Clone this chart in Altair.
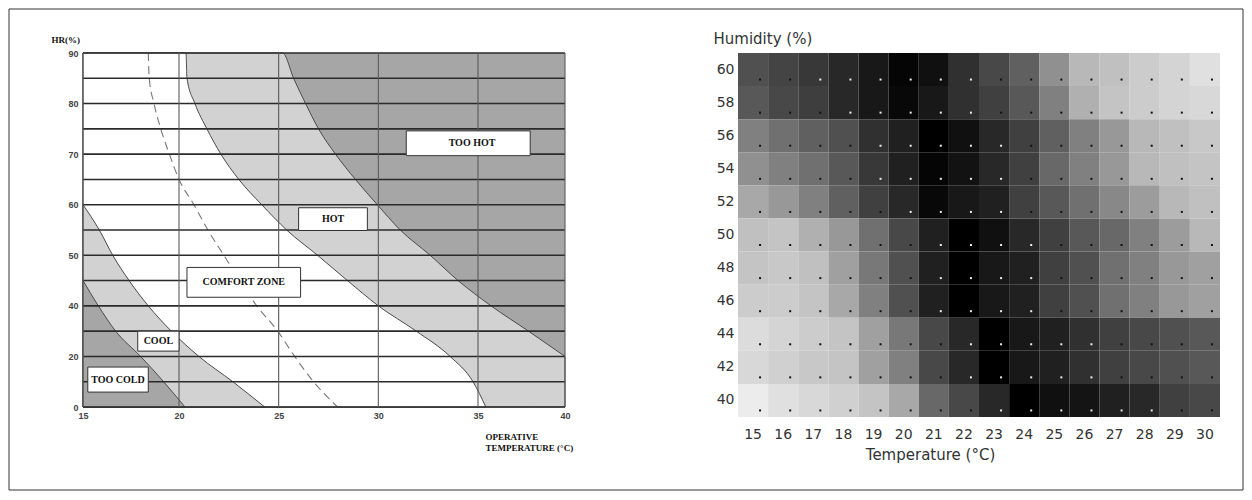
import altair as alt
import pandas as pd

# ---------------- Left chart: thermal comfort zones ----------------
hr_grid = [0, 10, 20, 30, 40, 45, 50, 55, 60, 65, 70, 75, 80, 85, 90]
hr_ticks = [0, 20, 40, 50, 60, 70, 80, 90]
t_ticks = [15, 20, 25, 30, 35, 40]

cold_hr = [0, 10, 20, 30, 40, 45]
cold_t = [20.3, 19.2, 18.0, 16.7, 15.8, 15.0]

cool_hr = [0, 10, 20, 30, 40, 45, 50, 55, 60]
cool_t = [24.3, 22.7, 21.0, 19.6, 18.4, 17.4, 16.55, 15.85, 15.0]

hot_hr = [0, 10, 20, 30, 40, 45, 50, 55, 60, 65, 70, 75, 80, 85, 90]
hot_t = [35.45, 34.75, 33.6, 31.9, 30.0, 28.45, 26.95, 25.4, 24.15, 23.0, 22.1, 21.4, 20.8, 20.4, 20.35]

toohot_hr = [20, 30, 40, 45, 50, 55, 60, 65, 70, 75, 80, 85, 90]
toohot_t = [40.0, 37.9, 35.75, 34.0, 32.6, 31.1, 29.95, 28.85, 27.85, 27.0, 26.35, 25.75, 25.2]

neutral_hr = [0, 10, 20, 30, 40, 50, 55, 60, 65, 70, 75, 80, 85, 90]
neutral_t = [27.95, 26.75, 25.8, 24.95, 23.9, 22.25, 21.45, 20.75, 20.0, 19.5, 19.05, 18.7, 18.45, 18.4]

zone_names = ["TOO HOT", "HOT", "COMFORT ZONE", "COOL", "TOO COLD"]
box_t0 = [31.4, 26.0, 20.4, 17.85, 15.25]
box_t1 = [38.0, 29.45, 26.1, 20.0, 18.4]
box_hr0 = [69.7, 54.9, 41.7, 22.1, 5.9]
box_hr1 = [74.6, 59.4, 47.6, 30.0, 15.8]

T_MIN, T_MAX, HR_MIN, HR_MAX = 15.0, 40.0, 0, 90

# ---------------- Right chart: heat map ----------------
temps = list(range(15, 31))
hums = [60, 58, 56, 54, 52, 50, 48, 46, 44, 42, 40]
gray_rows = [
    [80, 68, 56, 40, 24, 5, 16, 48, 72, 96, 144, 184, 192, 204, 212, 224],
    [88, 72, 62, 40, 24, 8, 24, 48, 64, 88, 128, 176, 196, 204, 212, 216],
    [128, 112, 96, 80, 48, 32, 0, 16, 40, 64, 96, 128, 152, 184, 192, 200],
    [144, 128, 112, 88, 56, 32, 5, 18, 40, 64, 104, 128, 152, 184, 192, 196],
    [168, 152, 128, 96, 64, 40, 8, 24, 32, 64, 88, 112, 136, 156, 184, 192],
    [192, 196, 176, 152, 112, 72, 32, 0, 16, 40, 64, 88, 104, 128, 156, 184],
    [196, 200, 192, 160, 120, 80, 32, 0, 24, 32, 64, 80, 112, 128, 152, 160],
    [204, 204, 196, 168, 128, 80, 32, 0, 24, 32, 64, 80, 112, 128, 152, 160],
    [220, 212, 204, 196, 160, 120, 72, 40, 0, 24, 32, 48, 64, 72, 80, 88],
    [216, 208, 200, 196, 160, 128, 72, 40, 0, 24, 32, 48, 64, 72, 80, 88],
    [236, 224, 216, 208, 196, 168, 104, 72, 40, 0, 16, 20, 32, 40, 64, 72],
]


def hr_idx(h):
    # the HR axis has 10 %-steps below 40 % and 5 %-steps above, equally spaced
    return h / 10.0 if h <= 40 else 4 + (h - 40) / 5.0


def curve_df(ts, hs):
    return pd.DataFrame({"T": ts, "idx": [hr_idx(h) for h in hs], "base": [0.0] * len(ts)})


DARK = "#a6a6a6"
LIGHT = "#d2d2d2"
EDGE = "#4a4a4a"

xscale = alt.Scale(domain=[15, 20, 35, 40], range=[0, 96, 395, 482])
yscale = alt.Scale(domain=[0, 14], nice=False, zero=False)

x_axis = alt.Axis(
    values=t_ticks, title=["OPERATIVE", "TEMPERATURE (°C)"], titleX=402, titleY=25,
    titleAlign="left", titleBaseline="top", titleFont="Liberation Serif", titleFontSize=9,
    titleFontWeight="bold", titleColor="#111", titleLineHeight=11,
    labelFont="Liberation Sans", labelFontSize=9, labelFontWeight="bold", labelColor="#444",
    labelPadding=4, ticks=False, domain=False, grid=False, labelFlush=False,
)
y_axis = alt.Axis(
    values=[hr_idx(h) for h in hr_ticks],
    labelExpr="datum.value <= 4 ? format(round(datum.value*10),'d') : format(round(40 + (datum.value-4)*5),'d')",
    title="HR(%)", titleAngle=0, titleAlign="left", titleBaseline="alphabetic", titleX=-32, titleY=-11,
    titleFont="Liberation Serif", titleFontSize=9, titleFontWeight="bold", titleColor="#111",
    labelFont="Liberation Sans", labelFontSize=9, labelFontWeight="bold", labelColor="#444",
    labelPadding=5, ticks=False, domain=False, grid=False, labelOverlap=False,
)

X = lambda f="T": alt.X(f"{f}:Q", scale=xscale, axis=x_axis)
Y = lambda f="idx": alt.Y(f"{f}:Q", scale=yscale, axis=y_axis)

bg = alt.Chart(pd.DataFrame({"T": [T_MIN], "T1": [T_MAX], "idx": [hr_idx(HR_MIN)], "idx1": [hr_idx(HR_MAX)]})).mark_rect(
    fill=DARK
).encode(x=X(), x2="T1:Q", y=Y(), y2="idx1:Q")


def zone(ts, hs, color):
    return alt.Chart(curve_df(ts, hs)).mark_area(
        interpolate="monotone", fill=color, stroke=EDGE, strokeWidth=1
    ).encode(x=X(), y=Y(), y2="base:Q")


# zones are filled from the bottom of the plot up to their boundary curve;
# curves that leave through the top of the plot are closed at the top-left corner
hot_area = zone([T_MIN] + toohot_t, [HR_MAX] + toohot_hr, LIGHT)
comfort_area = zone([T_MIN] + hot_t, [HR_MAX] + hot_hr, "#ffffff")
cool_area = zone(cool_t, cool_hr, LIGHT)
cold_area = zone(cold_t, cold_hr, DARK)

neutral = alt.Chart(curve_df(neutral_t, neutral_hr)).mark_line(
    interpolate="monotone", color="#777777", strokeWidth=1.1, strokeDash=[8, 5]
).encode(x=X(), y=Y())

hgrid = alt.Chart(pd.DataFrame({"idx": [hr_idx(h) for h in hr_grid]})).mark_rule(
    color="#2a2a2a", strokeWidth=1.6
).encode(y=Y())
vgrid = alt.Chart(pd.DataFrame({"T": t_ticks})).mark_rule(color="#5a5a5a", strokeWidth=1.1).encode(x=X())

boxes_df = pd.DataFrame({
    "name": zone_names,
    "T": box_t0, "T1": box_t1,
    "idx": [hr_idx(h) for h in box_hr0], "idx1": [hr_idx(h) for h in box_hr1],
})
boxes_df["Tc"] = (boxes_df["T"] + boxes_df["T1"]) / 2
boxes_df["ic"] = (boxes_df["idx"] + boxes_df["idx1"]) / 2

boxes = alt.Chart(boxes_df).mark_rect(fill="#ffffff", stroke="#333333", strokeWidth=1).encode(
    x=X(), x2="T1:Q", y=Y(), y2="idx1:Q"
)
labels = alt.Chart(boxes_df).mark_text(
    font="Liberation Serif", fontWeight="bold", fontSize=10, color="#111111"
).encode(x=X("Tc"), y=Y("ic"), text="name:N")

frame = alt.Chart(pd.DataFrame({"a": [0]})).mark_rect(
    fillOpacity=0, stroke="#333333", strokeWidth=1
).encode(x=alt.value(-74), x2=alt.value(1160), y=alt.value(-44), y2=alt.value(437))

left = alt.layer(
    bg, hot_area, comfort_area, cool_area, cold_area, neutral, hgrid, vgrid, boxes, labels, frame
).properties(width=482, height=354)

# ---------------- Right chart ----------------
rows = []
for h, grays in zip(hums, gray_rows):
    for t, g in zip(temps, grays):
        rows.append({"T": t, "H": h, "v": g})
heat_df = pd.DataFrame(rows)

hx = alt.X(
    "T:O", scale=alt.Scale(paddingInner=0, paddingOuter=0),
    axis=alt.Axis(
        title="Temperature (°C)", titleX=192, titleY=42, titleAlign="center", titleBaseline="alphabetic",
        titleFont="DejaVu Sans", titleFontSize=15, titleFontWeight="normal", titleColor="#333",
        labelFont="DejaVu Sans", labelFontSize=14, labelColor="#333", labelAngle=0, labelPadding=10,
        ticks=False, domain=False,
    ),
)
hy = alt.Y(
    "H:O", sort="descending", scale=alt.Scale(paddingInner=0, paddingOuter=0),
    axis=alt.Axis(
        title="Humidity (%)", titleAngle=0, titleAlign="left", titleBaseline="alphabetic",
        titleX=-25, titleY=-10, titleFont="DejaVu Sans", titleFontSize=15, titleFontWeight="normal",
        titleColor="#333", labelFont="DejaVu Sans", labelFontSize=14, labelColor="#333",
        labelPadding=4, ticks=False, domain=False,
    ),
)

heat = alt.Chart(heat_df).mark_rect().encode(
    x=hx, y=hy,
    color=alt.Color("v:Q", scale=alt.Scale(domain=[0, 255], range=["#000000", "#ffffff"], interpolate="rgb"),
                    legend=None),
)
dots = alt.Chart(heat_df).mark_square(size=4, xOffset=7, yOffset=10, opacity=1).encode(
    x=hx, y=hy,
    color=alt.condition(alt.datum.v < 60, alt.value("#eeeeee"), alt.value("#111111")),
)
right = alt.layer(heat, dots).properties(width=482, height=364)

chart = alt.hconcat(left, right, spacing=173, bounds="flush").properties(
    padding=0, background="white"
).configure_view(stroke=None)

chart.save("out.html", embed_options={"renderer": "svg", "actions": False})
